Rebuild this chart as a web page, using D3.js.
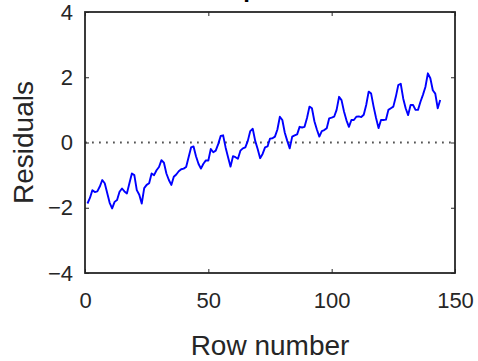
<!DOCTYPE html>
<html>
<head>
<meta charset="utf-8">
<script src="https://cdn.jsdelivr.net/npm/d3@7"></script>
<style>
  html, body { margin: 0; padding: 0; background: #fff; }
  svg { display: block; font-family: "Liberation Sans", Arial, Helvetica, sans-serif; }
</style>
</head>
<body>
<svg id="chart" width="478" height="361"></svg>
<script>
// ---- data ----
const titleText = "Case order plot of residuals";
const xLabel = "Row number";
const yLabel = "Residuals";
const xTicks = [0, 50, 100, 150];
const yTicks = [-4, -2, 0, 2, 4];
const residuals = [
  -1.87, -1.70, -1.46, -1.52, -1.50, -1.35, -1.15, -1.25, -1.55, -1.85, -2.02, -1.82,
  -1.76, -1.51, -1.41, -1.50, -1.56, -1.25, -0.95, -1.00, -1.46, -1.60, -1.87, -1.40,
  -1.30, -1.25, -0.95, -1.00, -0.85, -0.75, -0.54, -0.62, -0.95, -1.15, -1.30, -1.05,
  -0.98, -0.88, -0.82, -0.80, -0.75, -0.45, -0.15, -0.12, -0.42, -0.65, -0.80, -0.65,
  -0.55, -0.55, -0.20, -0.30, -0.25, -0.05,  0.20,  0.22, -0.15, -0.45, -0.74, -0.42,
  -0.45, -0.50, -0.25, -0.18, -0.15,  0.05,  0.35,  0.42,  0.05, -0.20, -0.48, -0.35,
  -0.15, -0.12,  0.12,  0.13,  0.18,  0.40,  0.79,  0.69,  0.30,  0.05, -0.18,  0.18,
   0.22,  0.25,  0.48,  0.46,  0.48,  0.75,  1.10,  1.05,  0.65,  0.40,  0.18,  0.35,
   0.38,  0.44,  0.74,  0.76,  0.79,  1.00,  1.40,  1.30,  0.95,  0.68,  0.48,  0.69,
   0.69,  0.79,  0.80,  0.78,  0.85,  1.15,  1.56,  1.50,  1.10,  0.75,  0.44,  0.69,
   0.69,  0.70,  1.00,  1.05,  1.10,  1.40,  1.76,  1.80,  1.35,  1.05,  0.84,  1.15,
   1.15,  1.00,  1.00,  1.25,  1.46,  1.70,  2.12,  1.97,  1.60,  1.50,  1.05,  1.30
];
const rows = residuals.map((_, i) => i + 1);

// ---- layout ----
const svg = d3.select("#chart");
const L = 85, R = 455, T = 12, B = 273;
const textColor = "#262626";

const x = d3.scaleLinear().domain([0, 150]).range([L, R]);
const y = d3.scaleLinear().domain([-4, 4]).range([B, T]);

// zero reference line (dotted)
svg.append("line")
  .attr("x1", x(0)).attr("x2", x(150))
  .attr("y1", y(0)).attr("y2", y(0))
  .attr("stroke", "#555").attr("stroke-width", 1.8)
  .attr("stroke-dasharray", "1.8,5.2");

// residual line
const line = d3.line().x((d, i) => x(rows[i])).y(d => y(d));
svg.append("path")
  .datum(residuals)
  .attr("d", line)
  .attr("fill", "none")
  .attr("stroke", "#0000ff")
  .attr("stroke-width", 1.9)
  .attr("stroke-linejoin", "round");

// axes
function styleAxis(g, showText) {
  g.select(".domain").remove();
  g.selectAll(".tick line").attr("stroke", textColor).attr("stroke-width", 1);
  g.selectAll(".tick text")
    .attr("fill", textColor)
    .style("font-size", "22px")
    .style("display", showText ? null : "none");
}
const fmt = d3.format("d");
svg.append("g").attr("transform", `translate(0,${B})`)
  .call(d3.axisBottom(x).tickValues(xTicks).tickFormat(fmt).tickSizeInner(-4).tickSizeOuter(0).tickPadding(19))
  .call(g => styleAxis(g, true));
svg.append("g").attr("transform", `translate(0,${T})`)
  .call(d3.axisTop(x).tickValues(xTicks).tickSizeInner(-4).tickSizeOuter(0))
  .call(g => styleAxis(g, false));
svg.append("g").attr("transform", `translate(${L},0)`)
  .call(d3.axisLeft(y).tickValues(yTicks).tickFormat(fmt).tickSizeInner(-4).tickSizeOuter(0).tickPadding(12))
  .call(g => styleAxis(g, true));
svg.append("g").attr("transform", `translate(${R},0)`)
  .call(d3.axisRight(y).tickValues(yTicks).tickSizeInner(-4).tickSizeOuter(0))
  .call(g => styleAxis(g, false));

// box
svg.append("rect")
  .attr("x", L).attr("y", T).attr("width", R - L).attr("height", B - T)
  .attr("fill", "none").attr("stroke", textColor).attr("stroke-width", 1.8);

// labels
svg.append("text")
  .attr("x", (L + R) / 2).attr("y", 355)
  .attr("text-anchor", "middle").attr("fill", textColor)
  .style("font-size", "28px").text(xLabel);
svg.append("text")
  .attr("transform", `translate(33,${(T + B) / 2}) rotate(-90)`)
  .attr("text-anchor", "middle").attr("fill", textColor)
  .style("font-size", "28px").text(yLabel);
// title sits mostly above the visible area, as in the reference
svg.append("text")
  .attr("x", (L + R) / 2).attr("y", -3)
  .attr("text-anchor", "middle").attr("fill", "#000")
  .style("font-size", "24px").style("font-weight", "bold").text(titleText);
</script>
</body>
</html>
